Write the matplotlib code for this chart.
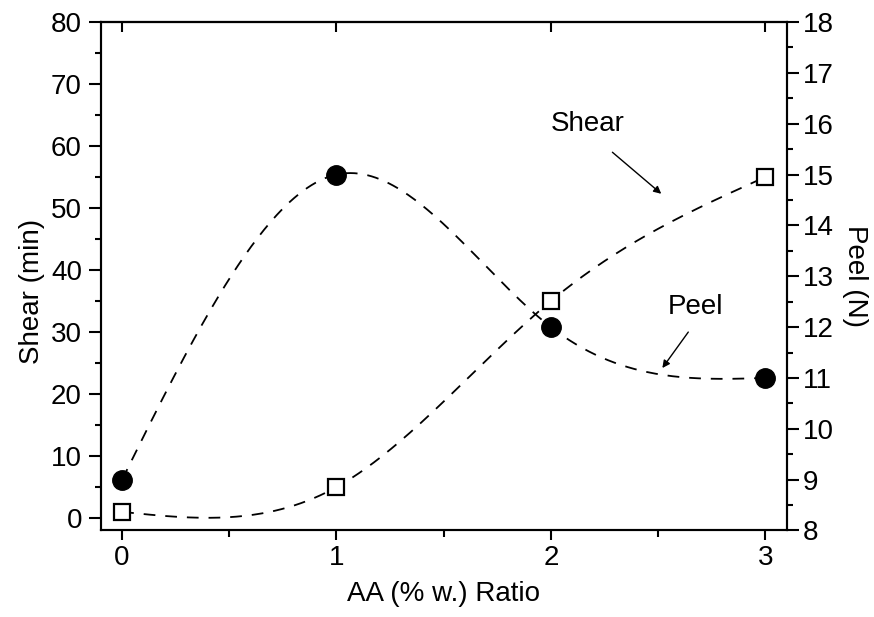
import numpy as np
import matplotlib
matplotlib.use("Agg")
import matplotlib.pyplot as plt
from matplotlib.ticker import MultipleLocator

plt.rcParams['font.family'] = ['Liberation Sans', 'DejaVu Sans']

# data
ratio = [0, 1, 2, 3]
shear = [1, 5, 35, 55]        # min, left axis, open squares
peel = [9, 15, 12, 11]        # N, right axis, filled circles


def natural_spline(x, y, xs):
    # plain natural cubic spline, like the smooth line in the original
    x = np.asarray(x, float)
    y = np.asarray(y, float)
    n = len(x)
    h = np.diff(x)
    A = np.zeros((n, n))
    b = np.zeros(n)
    A[0, 0] = 1
    A[-1, -1] = 1
    for i in range(1, n - 1):
        A[i, i - 1] = h[i - 1]
        A[i, i] = 2 * (h[i - 1] + h[i])
        A[i, i + 1] = h[i]
        b[i] = 6 * ((y[i + 1] - y[i]) / h[i] - (y[i] - y[i - 1]) / h[i - 1])
    M = np.linalg.solve(A, b)
    k = np.clip(np.searchsorted(x, xs) - 1, 0, n - 2)
    hk = h[k]
    a = x[k + 1] - xs
    c = xs - x[k]
    return (M[k] * a**3 / (6 * hk) + M[k + 1] * c**3 / (6 * hk)
            + (y[k] / hk - M[k] * hk / 6) * a + (y[k + 1] / hk - M[k + 1] * hk / 6) * c)


xs = np.linspace(ratio[0], ratio[-1], 300)

fig = plt.figure(figsize=(8.74, 6.17), dpi=100)
ax1 = fig.add_axes([0.1152, 0.1402, 0.7849, 0.8241])
ax2 = ax1.twinx()

dash = (0, (6.5, 5.5))
ax1.plot(xs, natural_spline(ratio, shear, xs), color='black', lw=1.3, linestyle=dash, zorder=1)
ax1.plot(ratio, shear, 's', ms=12, mfc='white', mec='black', mew=1.6, zorder=3)
ax2.plot(xs, natural_spline(ratio, peel, xs), color='black', lw=1.3, linestyle=dash, zorder=1)
ax2.plot(ratio, peel, 'o', ms=14, color='black', zorder=3)

ax1.set_xlim(-0.1, 3.1)
ax1.set_ylim(-2, 80)
ax2.set_ylim(8, 18)

ax1.xaxis.set_major_locator(MultipleLocator(1))
ax1.xaxis.set_minor_locator(MultipleLocator(0.5))
ax1.yaxis.set_major_locator(MultipleLocator(10))
ax1.yaxis.set_minor_locator(MultipleLocator(5))
ax2.yaxis.set_major_locator(MultipleLocator(1))
ax2.yaxis.set_minor_locator(MultipleLocator(0.5))

for ax in (ax1, ax2):
    for s in ax.spines.values():
        s.set_linewidth(1.5)
ax1.tick_params(axis='x', which='major', direction='out', length=7.5, width=1.5,
                labelsize=20, pad=3)
ax1.tick_params(axis='x', which='minor', direction='out', length=5, width=1.5)
ax1.tick_params(axis='y', which='major', direction='out', length=8.5, width=1.5,
                labelsize=20, pad=5)
ax1.tick_params(axis='y', which='minor', direction='out', length=4.5, width=1.5)
ax2.tick_params(axis='y', which='major', direction='out', length=8.5, width=1.5,
                labelsize=20, pad=3)
ax2.tick_params(axis='y', which='minor', direction='out', length=4.5, width=1.5)

# the top ticks in the original point inwards and have no minor ones
sec = ax1.secondary_xaxis('top')
sec.xaxis.set_major_locator(MultipleLocator(1))
sec.tick_params(direction='in', length=7.5, width=1.5, labeltop=False)
sec.spines['top'].set_linewidth(1.5)

ax1.set_xlabel('AA (% w.) Ratio', fontsize=20, va='center')
ax1.xaxis.set_label_coords(0.5, -0.125)
ax1.set_ylabel('Shear (min)', fontsize=20, va='center')
ax1.yaxis.set_label_coords(-0.1, 0.47)
ax2.set_ylabel('Peel (N)', fontsize=20, rotation=270, va='center')
ax2.yaxis.set_label_coords(1.0996, 0.5)

arrow = dict(arrowstyle='-|>', color='black', lw=1, mutation_scale=11,
             shrinkA=0, shrinkB=0)
ax1.annotate('', xy=(2.515, 52.3), xytext=(2.287, 59.0), arrowprops=arrow)
ax1.text(2.17, 63.6, 'Shear', fontsize=20, ha='center', va='center')
ax1.annotate('', xy=(2.52, 24.2), xytext=(2.641, 30.0), arrowprops=arrow)
ax1.text(2.674, 34.0, 'Peel', fontsize=20, ha='center', va='center')

fig.savefig('out.png', dpi=100)
